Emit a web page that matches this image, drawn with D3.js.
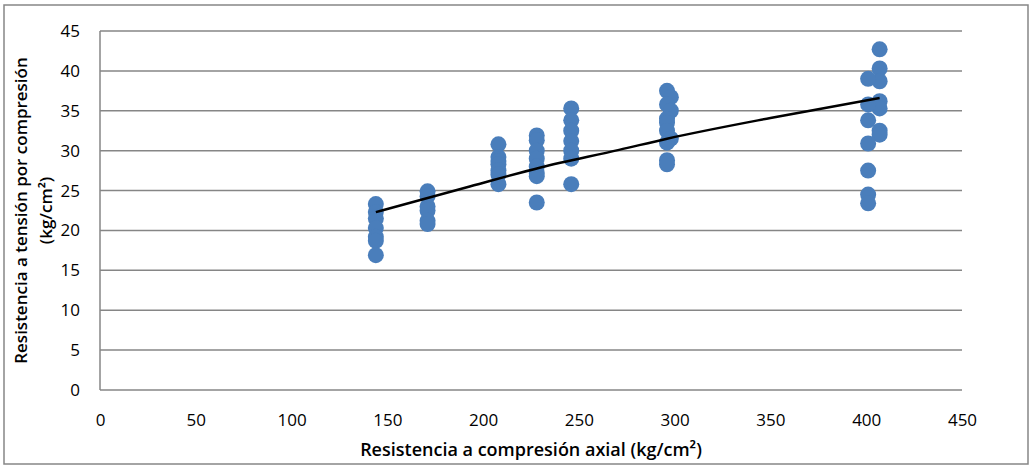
<!DOCTYPE html>
<html>
<head>
<meta charset="utf-8">
<script src="https://cdn.jsdelivr.net/npm/d3@7"></script>
<style>
  body { margin: 0; background: #fff; }
  svg text { font-family: "Open Sans", sans-serif; fill: #000; }
</style>
</head>
<body>
<svg id="chart" width="1032" height="471"></svg>
<script>
// compression (x) and tension (y) readings, kg/cm2
const compX = [
    144, 144, 144, 144, 144, 144, 144,
    171, 171, 171, 171, 171, 171,
    208, 208, 208, 208, 208, 208, 208,
    228, 228, 228, 228, 228, 228, 228, 228,
    246, 246, 246, 246, 246, 246, 246,
    296, 298, 296, 298, 296, 296, 296, 298, 296, 296, 296,
    407, 407, 407, 407, 407, 407, 407,
    401, 401, 401, 401, 401, 401, 401
];
const tensY = [
    23.3, 22.3, 21.5, 20.3, 19.2, 18.7, 16.9,
    24.9, 24.3, 23.0, 22.5, 21.2, 20.8,
    30.8, 29.2, 28.7, 28.3, 27.5, 27.0, 25.8,
    31.9, 31.3, 30.0, 29.0, 28.0, 27.2, 26.8, 23.5,
    35.3, 33.8, 32.5, 31.2, 30.0, 29.0, 25.8,
    37.5, 36.7, 35.8, 35.0, 34.0, 33.5, 32.5, 31.5, 31.0, 28.8, 28.3,
    42.7, 40.3, 38.7, 36.2, 35.3, 32.5, 32.0,
    39.0, 35.8, 33.8, 30.9, 27.5, 24.5, 23.4
];
// trendline
const trendX = [144, 193, 230, 271, 296, 350, 407];
const trendY = [22.3, 25.5, 27.9, 30.1, 31.5, 34.1, 36.6];
const xTicks = [0, 50, 100, 150, 200, 250, 300, 350, 400, 450];
const yTicks = [0, 5, 10, 15, 20, 25, 30, 35, 40, 45];
const xTitle = 'Resistencia a compresión axial (kg/cm²)';
const yTitle = ['Resistencia a tensión por compresión', '(kg/cm²)'];

let svg = d3.select('#chart'),
    margin = {top: 31, right: 70, bottom: 81, left: 100},
    width = svg.attr('width') - margin.left - margin.right,
    height = svg.attr('height') - margin.top - margin.bottom,
    g = svg.append('g').attr('transform', `translate(${margin.left},${margin.top})`)
;
let x = d3.scaleLinear().domain([0, 450]).range([0, width]),
    y = d3.scaleLinear().domain([0, 45]).range([height, 0])
;

// outer frame
svg.append('rect')
    .attr('x', 4).attr('y', 5)
    .attr('width', 1024).attr('height', 459)
    .attr('fill', 'none')
    .attr('stroke', '#868686')
    .attr('stroke-width', 1.5);

// horizontal gridlines
g.append('g')
    .selectAll('line')
    .data(yTicks)
    .enter().append('line')
    .attr('x1', 0).attr('x2', width)
    .attr('y1', d => y(d)).attr('y2', d => y(d))
    .attr('stroke', '#868686')
    .attr('stroke-width', 1.5);

// left axis line
g.append('line')
    .attr('x1', 0).attr('x2', 0)
    .attr('y1', 0).attr('y2', height)
    .attr('stroke', '#868686')
    .attr('stroke-width', 1.5);

let yAxis = g.append('g')
    .call(d3.axisLeft(y).tickValues(yTicks).tickSize(0).tickPadding(20));
yAxis.select('.domain').remove();
yAxis.selectAll('text').style('font-size', '17px');

let xAxis = g.append('g')
    .attr('transform', `translate(0,${height})`)
    .call(d3.axisBottom(x).tickValues(xTicks).tickSize(0).tickPadding(24));
xAxis.select('.domain').remove();
xAxis.selectAll('text').style('font-size', '17px');

g.selectAll('.pt')
    .data(compX.map((v, i) => ({x: v, y: tensY[i]})))
    .enter().append('circle')
    .attr('class', 'pt')
    .attr('cx', d => x(d.x))
    .attr('cy', d => y(d.y))
    .attr('r', 8)
    .style('fill', '#4a7ebb');

let line = d3.line()
    .curve(d3.curveMonotoneX)
    .x(d => x(d[0]))
    .y(d => y(d[1]));

g.append('path')
    .attr('d', line(trendX.map((v, i) => [v, trendY[i]])))
    .style('fill', 'none')
    .style('stroke', '#000')
    .style('stroke-width', '2.5px');

svg.append('text')
    .attr('x', 531)
    .attr('y', 456)
    .attr('text-anchor', 'middle')
    .style('font-size', '18px')
    .style('font-weight', '600')
    .text(xTitle);

let yt = svg.append('text')
    .attr('transform', `translate(27,${margin.top + height / 2}) rotate(-90)`)
    .attr('text-anchor', 'middle')
    .style('font-size', '17px')
    .style('font-weight', '600');
yt.selectAll('tspan')
    .data(yTitle)
    .enter().append('tspan')
    .attr('x', 0)
    .attr('dy', (d, i) => i ? '1.45em' : 0)
    .text(d => d);
</script>
</body>
</html>
